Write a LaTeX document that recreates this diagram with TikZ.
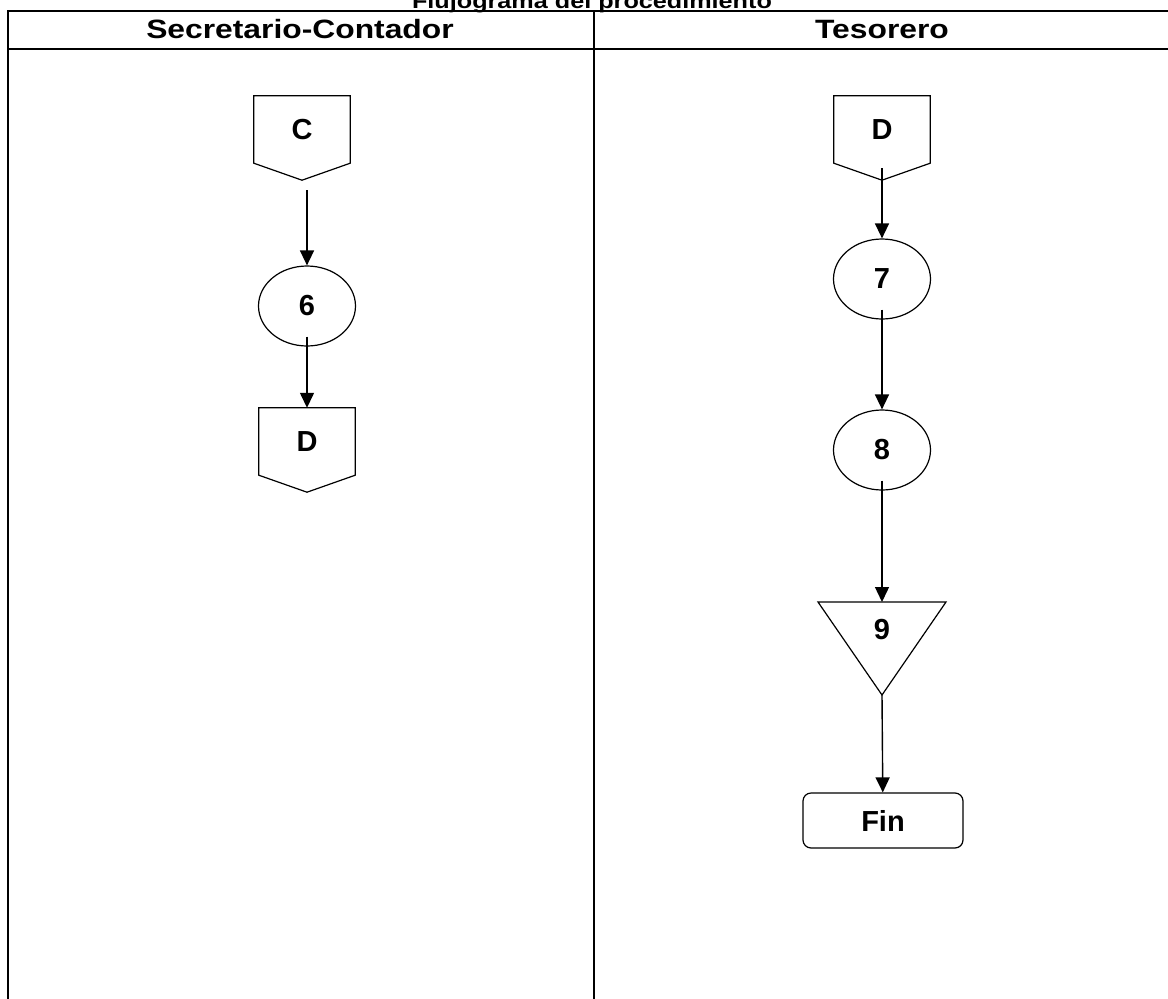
\documentclass[tikz,border=0pt]{standalone}
\usepackage{fontspec}
\setmainfont{Liberation Sans}
\newfontfamily\headfont{Liberation Sans}[FakeStretch = 1.2]
\usepackage{tikz}
\usetikzlibrary{shapes.geometric}
\usetikzlibrary{arrows.meta}

\tikzset{
    lane/.style = {line width = 2.4pt},
    lanehead/.style = {anchor = base, font = \fontsize{26.5}{30}\headfont\bfseries},
    proc/.style = {draw, ellipse, line width = 1.2pt, minimum width = 97pt,
        minimum height = 80pt, inner sep = 0pt},
    offpage/.style = {minimum width = 96pt, minimum height = 67pt, inner sep = 0pt},
    finbox/.style = {draw, rounded corners = 8pt, line width = 1.2pt,
        minimum width = 160pt, minimum height = 55pt, inner sep = 0pt},
    flow/.style = {line width = 1.4pt, -{Triangle[length = 15pt, width = 14pt]}},
}

\begin{document}
\begin{tikzpicture}[x = 1pt, y = -1pt, font = \fontsize{29}{34}\selectfont\bfseries]
        \useasboundingbox (0, 0) rectangle (1168, 999);

        % cuadro de carriles
        \draw[lane] (8, 1010) -- (8, 11) -- (1175, 11);
        \draw[lane] (8, 49) -- (1175, 49);
        \draw[lane] (594, 11) -- (594, 1010);

        \node[anchor = base, font = \fontsize{21}{25}\headfont\bfseries] (titulo)
            at (592, 8) {Flujograma del procedimiento};
        \node[lanehead] (secre) at (300, 38) {Secretario-Contador};
        \node[lanehead] (teso) at (882, 38) {Tesorero};

        % Secretario-Contador
        \node[offpage] (conC) at (302, 129.5) {C};
        \node[proc] (p6) at (307, 306) {6};
        \node[offpage] (conDa) at (307, 441.5) {D};

        % Tesorero
        \node[offpage] (conDb) at (882, 129.5) {D};
        \node[proc] (p7) at (882, 279) {7};
        \node[proc] (p8) at (882, 450) {8};
        \node (n9) at (882, 630) {9};
        \coordinate (t9a) at (818, 602);
        \coordinate (t9b) at (946, 602);
        \coordinate (t9c) at (882, 695);
        \coordinate (t9top) at (882, 602);
        \node[finbox] (fin) at (883, 820.5) {Fin};

        \foreach \c in {conC, conDa, conDb} {
            \draw[line width = 1.2pt] (\c.north west) -- (\c.north east) -- (\c.south east)
                -- ([yshift = -17pt]\c.south) coordinate (\c tip) -- (\c.south west) -- cycle;
        }
        \draw[line width = 1.2pt] (t9a) -- (t9b) -- (t9c) -- cycle;

        \draw[flow, shorten < = 10pt] (conCtip -| p6) -- (p6);
        \draw[flow, shorten < = -10pt] (p6.south) -- (conDa);
        \draw[flow, shorten < = -12pt] (conDbtip) -- (p7);
        \draw[flow, shorten < = -10pt] (p7.south) -- (p8);
        \draw[flow, shorten < = -10pt] (p8.south) -- (t9top);
        \draw[flow] (t9c) -- (fin);
    \end{tikzpicture}
\end{document}
